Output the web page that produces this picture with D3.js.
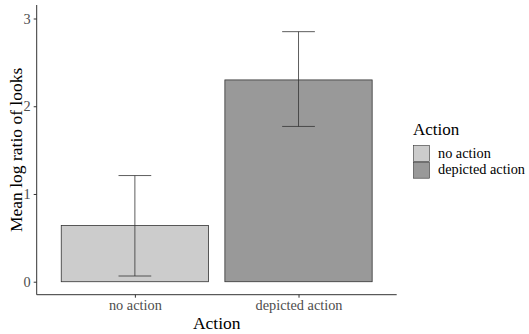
<!DOCTYPE html>
<html>
<head>
<meta charset="utf-8">
<script src="https://cdn.jsdelivr.net/npm/d3@7"></script>
<style>
  body { margin: 0; background: #fff; }
  text { font-family: "Liberation Serif", "DejaVu Serif", serif; }
</style>
</head>
<body>
<svg id="chart" width="529" height="334"></svg>
<script>
// values
const categories = ["no action", "depicted action"];
const means = [0.64, 2.30];
const lower = [0.065, 1.77];
const upper = [1.21, 2.85];
const fills = ["#cccccc", "#999999"];
const yTicks = [0, 1, 2, 3];

const svg = d3.select("#chart");
const panel = {left: 36.7, right: 396.7, top: 5, bottom: 294.7};

// discrete scale like ggplot: 0.6 expansion each side, bar width 0.9
const x = d3.scaleLinear().domain([0.4, 2.6]).range([panel.left, panel.right]);
const y = d3.scaleLinear().domain([-0.148, 3.154]).range([panel.bottom, panel.top]);

const rows = categories.map((c, i) => ({c, i, mean: means[i], lo: lower[i], hi: upper[i], fill: fills[i]}));

const g = svg.append("g");
g.selectAll("rect.bar")
    .data(rows)
    .join("rect")
    .attr("class", "bar")
    .attr("x", d => x(d.i + 1 - 0.45))
    .attr("width", d => x(d.i + 1 + 0.45) - x(d.i + 1 - 0.45))
    .attr("y", d => y(d.mean))
    .attr("height", d => y(0) - y(d.mean))
    .attr("fill", d => d.fill)
    .attr("stroke", "#333")
    .attr("stroke-width", 0.8);

// error bars
const eb = g.selectAll("g.err").data(rows).join("g").attr("class", "err")
    .attr("stroke", "#333").attr("stroke-width", 0.8);
eb.append("line")
    .attr("x1", d => x(d.i + 1)).attr("x2", d => x(d.i + 1))
    .attr("y1", d => y(d.lo)).attr("y2", d => y(d.hi));
eb.append("line")
    .attr("x1", d => x(d.i + 1 - 0.1)).attr("x2", d => x(d.i + 1 + 0.1))
    .attr("y1", d => y(d.hi)).attr("y2", d => y(d.hi));
eb.append("line")
    .attr("x1", d => x(d.i + 1 - 0.1)).attr("x2", d => x(d.i + 1 + 0.1))
    .attr("y1", d => y(d.lo)).attr("y2", d => y(d.lo));

// axes
const yAxis = svg.append("g")
    .attr("transform", `translate(${panel.left},0)`)
    .call(d3.axisLeft(y).tickValues(yTicks).tickFormat(d3.format("d"))
        .tickSize(3).tickPadding(3).tickSizeOuter(0));
const xAxis = svg.append("g")
    .attr("transform", `translate(0,${panel.bottom})`)
    .call(d3.axisBottom(x).tickValues([1, 2]).tickFormat(d => categories[d - 1])
        .tickSize(3).tickPadding(2).tickSizeOuter(0));
[yAxis, xAxis].forEach(a => {
    a.select(".domain").attr("stroke", "#333").attr("stroke-width", 1);
    a.selectAll(".tick line").attr("stroke", "#333");
    a.selectAll(".tick text").attr("fill", "#4d4d4d")
        .style("font-family", "'Liberation Serif', serif").style("font-size", "14.3px");
});
yAxis.select(".domain").attr("d", `M0,${panel.top}V${panel.bottom}`);
xAxis.select(".domain").attr("d", `M${panel.left},0H${panel.right}`);

// axis titles
svg.append("text")
    .attr("x", (panel.left + panel.right) / 2).attr("y", 329)
    .attr("text-anchor", "middle").style("font-size", "17.5px")
    .text("Action");
svg.append("text")
    .attr("transform", `translate(22,${(panel.top + panel.bottom) / 2}) rotate(-90)`)
    .attr("text-anchor", "middle").style("font-size", "17.5px")
    .text("Mean log ratio of looks");

// legend
const leg = svg.append("g").attr("transform", "translate(413,0)");
leg.append("text").attr("x", 0).attr("y", 135).style("font-size", "17px").text("Action");
const key = leg.selectAll("g.key").data(rows).join("g").attr("class", "key")
    .attr("transform", d => `translate(0,${145 + d.i * 16.7})`);
key.append("rect").attr("x", 0.5).attr("y", 0.5).attr("width", 16).attr("height", 16)
    .attr("fill", d => d.fill).attr("stroke", "#333").attr("stroke-width", 0.6);
key.append("text").attr("x", 25).attr("y", 12.5).style("font-size", "14.3px").text(d => d.c);
</script>
</body>
</html>
